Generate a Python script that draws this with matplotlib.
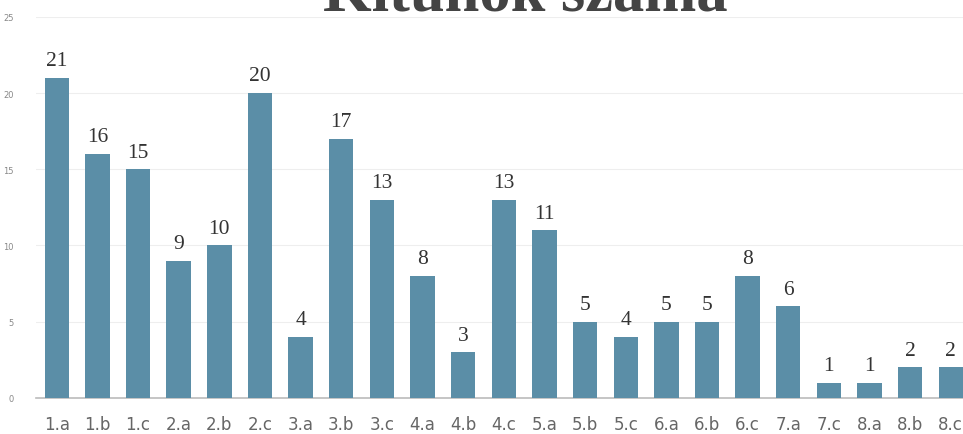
import matplotlib.pyplot as plt
import numpy as np

categories = ["1.a", "1.b", "1.c", "2.a", "2.b", "2.c", "3.a", "3.b", "3.c", "4.a",
              "4.b", "4.c", "5.a", "5.b", "5.c", "6.a", "6.b", "6.c", "7.a", "7.c",
              "8.a", "8.b", "8.c"]
values = [21, 16, 15, 9, 10, 20, 4, 17, 13, 8, 3, 13, 11, 5, 4, 5, 5, 8, 6, 1, 1, 2, 2]
yticks = [0, 5, 10, 15, 20, 25]

BAR = "#5b8ea7"

fig = plt.figure(figsize=(9.63, 4.35), dpi=100)
ax = fig.add_axes([0.037, 0.083, 0.963, 0.876])
x = np.arange(len(categories))
ax.bar(x, values, width=0.6, color=BAR, zorder=3)
for xi, v in zip(x, values):
    ax.text(xi, v + 0.5, str(v), ha="center", va="bottom", fontsize=15.5,
            family="Liberation Serif", color="#333333")

ax.set_ylim(0, 25)
ax.set_xlim(-0.52, len(categories) - 0.7)
ax.set_yticks(yticks)
ax.set_yticklabels([str(t) for t in yticks], fontsize=6, color="#888888")
ax.set_xticks(x)
ax.set_xticklabels(categories, fontsize=12, color="#666666")
ax.tick_params(axis="both", length=0)
ax.tick_params(axis="x", pad=12)
ax.tick_params(axis="y", pad=16)
ax.grid(axis="y", color="#eeeeee", lw=0.8, zorder=0)
for s in ["top", "right", "left"]:
    ax.spines[s].set_visible(False)
ax.spines["bottom"].set_color("#bbbbbb")
ax.spines["bottom"].set_linewidth(1.2)

fig.text(0.545, 0.976, "Kitűnők száma", ha="center", va="baseline", fontsize=45,
         family="Liberation Serif", weight="bold", color="#444444")

fig.savefig("out.png", dpi=100)
